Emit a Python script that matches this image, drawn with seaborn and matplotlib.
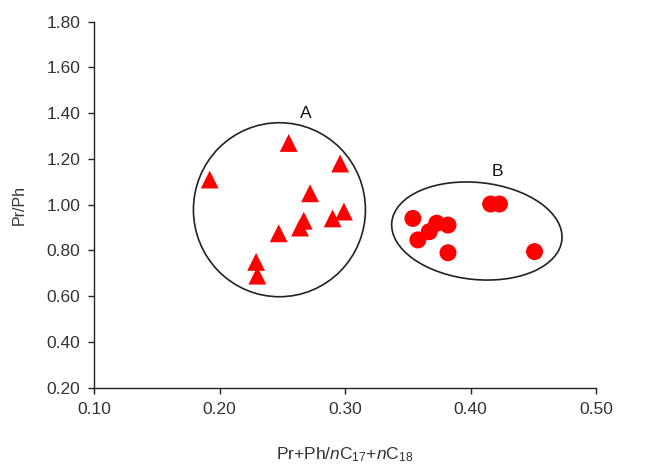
import pandas as pd
import numpy as np
import seaborn as sns
import matplotlib.pyplot as plt
import matplotlib.transforms as mtransforms
from matplotlib.patches import Ellipse

# Group A (triangles) and group B (circles)
a_x = [0.192, 0.255, 0.296, 0.272, 0.299, 0.290, 0.267, 0.264, 0.247, 0.229, 0.230]
a_y = [1.11, 1.27, 1.18, 1.05, 0.97, 0.94, 0.93, 0.90, 0.875, 0.75, 0.69]
b_x = [0.354, 0.358, 0.367, 0.373, 0.382, 0.382, 0.416, 0.423, 0.451]
b_y = [0.94, 0.846, 0.882, 0.919, 0.911, 0.79, 1.003, 1.003, 0.795]

x_ticks = [0.10, 0.20, 0.30, 0.40, 0.50]
y_ticks = [0.20, 0.40, 0.60, 0.80, 1.00, 1.20, 1.40, 1.60, 1.80]

df = pd.DataFrame({
    'x': a_x + b_x,
    'y': a_y + b_y,
    'group': ['A'] * len(a_x) + ['B'] * len(b_x),
})

sns.set_style('white')
plt.rcParams['font.family'] = ['Liberation Sans', 'DejaVu Sans']
plt.rcParams['mathtext.fontset'] = 'custom'
plt.rcParams['mathtext.rm'] = 'Liberation Sans'
plt.rcParams['mathtext.it'] = 'Liberation Sans:italic'

txt = '#333333'

fig = plt.figure(figsize=(6.7, 4.67), dpi=100)
ax = fig.add_axes([94.3 / 670, 1 - 387.7 / 467, (596 - 94.3) / 670, (387.7 - 21.7) / 467])

sns.scatterplot(data=df[df.group == 'A'], x='x', y='y', marker='^', s=165,
                color='#ff0000', edgecolor='none', ax=ax, legend=False)
sns.scatterplot(data=df[df.group == 'B'], x='x', y='y', marker='o', s=150,
                color='#ff0000', edgecolor='none', ax=ax, legend=False)

ax.set_xlim(0.10, 0.50)
ax.set_ylim(0.20, 1.80)
ax.set_xticks(x_ticks)
ax.set_yticks(y_ticks)
ax.set_xticklabels([f'{v:.2f}' for v in x_ticks])
ax.set_yticklabels([f'{v:.2f}' for v in y_ticks])
ax.tick_params(bottom=True, left=True, direction='out', length=4, width=1,
               color='#222222', labelcolor=txt, labelsize=12.5, pad=6)
for side in ['top', 'right']:
    ax.spines[side].set_visible(False)
for side in ['left', 'bottom']:
    ax.spines[side].set_color('#222222')
    ax.spines[side].set_linewidth(1)

ax.set_xlabel('Pr+Ph/$\\it{n}$C$_{17}$+$\\it{n}$C$_{18}$', fontsize=12.5, color=txt, labelpad=21)
ax.set_ylabel('Pr/Ph', fontsize=11.5, color=txt, labelpad=14)

# cluster outlines, sized in pixels and anchored at data points
def outline(cx, cy, w, h, angle):
    tr = mtransforms.Affine2D() + mtransforms.ScaledTranslation(cx, cy, ax.transData)
    ax.add_patch(Ellipse((0, 0), w, h, angle=angle, fill=False, edgecolor='#222222',
                         linewidth=1.2, transform=tr, clip_on=False))

outline(0.2476, 0.978, 172, 174, 0)
outline(0.405, 0.885, 171, 97, -6)

ax.text(0.2683, 1.40, 'A', fontsize=12.5, ha='center', va='center', color='#111111')
ax.text(0.421, 1.145, 'B', fontsize=12.5, ha='center', va='center', color='#111111')

plt.savefig('out.png', dpi=100)
